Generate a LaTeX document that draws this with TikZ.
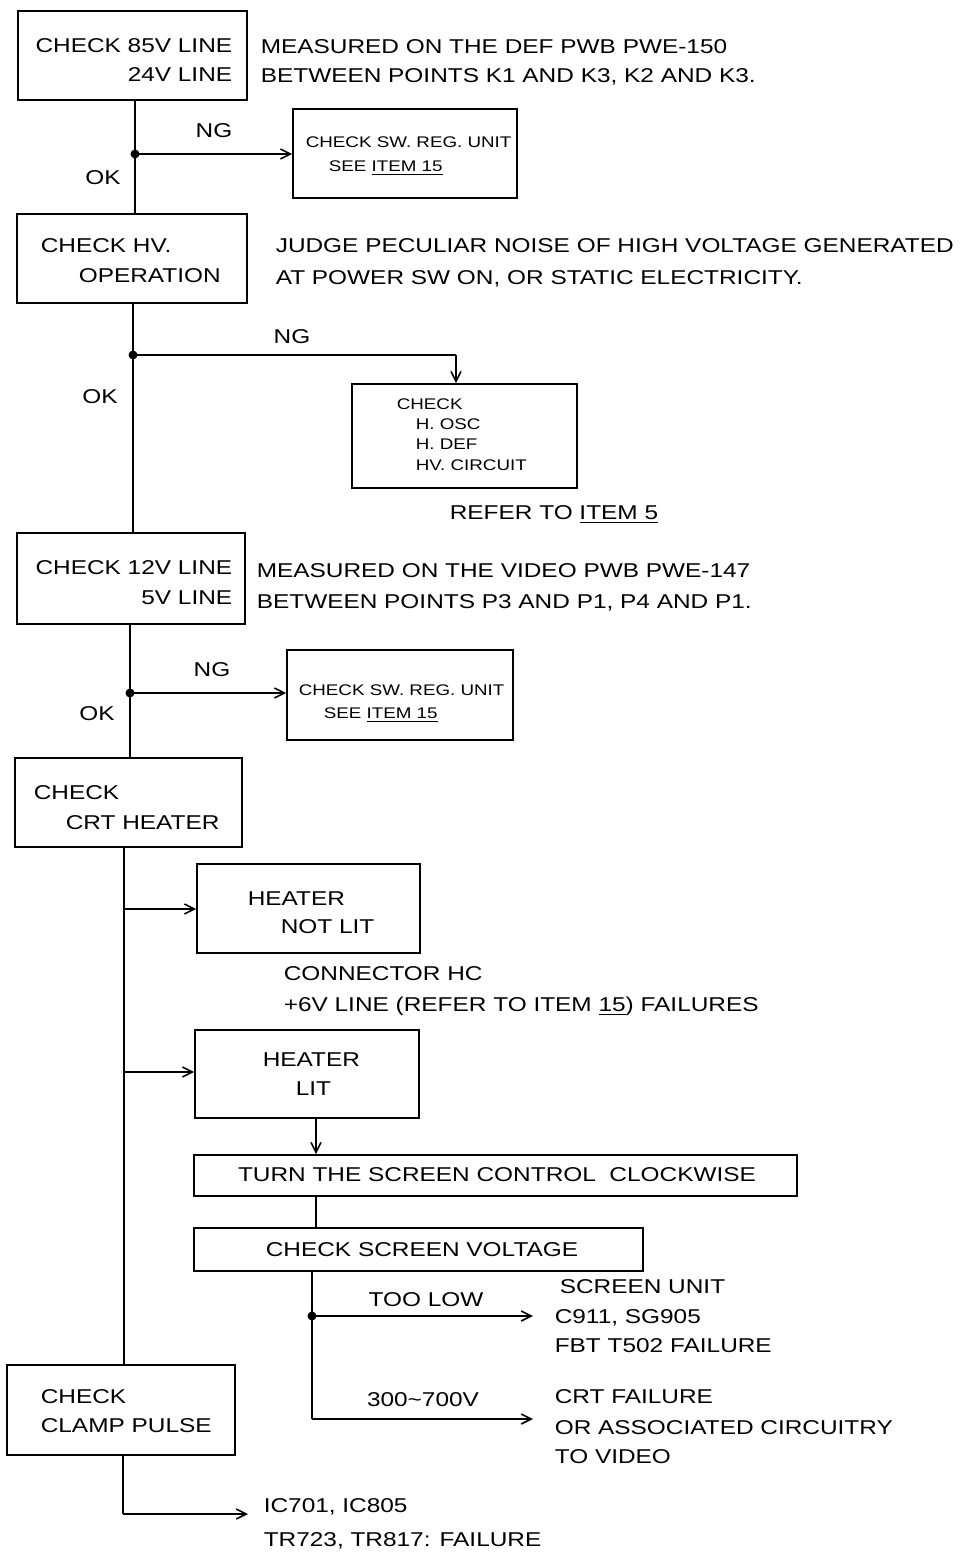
\documentclass[tikz,border=0pt]{standalone}
\usepackage{fontspec}
\setmainfont{Liberation Sans}[FakeStretch=1.22]
\usetikzlibrary{arrows.meta}
\begin{document}
\begin{tikzpicture}[x=0.5pt,y=-0.5pt,
  line width=0.8pt,
  bx/.style 2 args={draw, line width=0.8pt, minimum width=#1*0.5pt, minimum height=#2*0.5pt, inner sep=0pt},
  tx/.style={inner sep=0pt, anchor=base west, font=\fontsize{10}{12}\selectfont},
  txr/.style={tx, anchor=base east},
  sm/.style={inner sep=0pt, anchor=base west, font=\fontsize{7.7}{9}\selectfont},
  lbl/.style={inner sep=0pt, font=\fontsize{10}{12}\selectfont},
  arr/.style={-{Straight Barb[length=5pt,width=5pt]}},
  dot/.style={circle, fill, inner sep=0pt, minimum size=4.5pt}
]
\useasboundingbox (0,0) rectangle (975,1552);

% ---- boxes ----
\node[bx={229}{89}] (b1) at (132.5,55.5) {};
\node[bx={224}{89}] (b3) at (405,153.5) {};
\node[bx={230}{89}] (b2) at (132,258.5) {};
\node[bx={225}{104}] (b4) at (464.5,436) {};
\node[bx={228}{91}] (b5) at (131,578.5) {};
\node[bx={226}{90}] (b7) at (400,695) {};
\node[bx={227}{89}] (b6) at (128.5,802.5) {};
\node[bx={223}{89}] (b8) at (308.5,908.5) {};
\node[bx={224}{88}] (b9) at (307,1074) {};
\node[bx={603}{41}] (b10) at (495.5,1175.5) {};
\node[bx={449}{43}] (b11) at (418.5,1249.5) {};
\node[bx={228}{90}] (b12) at (121,1410) {};

% ---- junctions and bends ----
\node[dot] (j1) at (135,154) {};
\node[dot] (j2) at (133,355) {};
\node[dot] (j3) at (130,693) {};
\node[dot] (j4) at (312,1316) {};
\coordinate (c2) at (456,355);
\coordinate (v1) at (124,909);
\coordinate (v2) at (124,1072);
\coordinate (c4) at (312,1419);
\coordinate (c5) at (123,1514);
\coordinate (e1) at (533,1316);
\coordinate (e2) at (533,1419);
\coordinate (e3) at (248,1514);

% ---- connectors ----
\draw (b1.south -| j1) -- (b2.north -| j1);
\draw[arr] (j1.center) -- (j1.center -| b3.west);
\draw (b2.south -| j2) -- (b5.north -| j2);
\draw (j2.center) -- (c2);
\draw[arr] (c2) -- (c2 |- b4.north);
\draw (b5.south -| j3) -- (b6.north -| j3);
\draw[arr] (j3.center) -- (j3.center -| b7.west);
\draw (b6.south -| v1) -- (b12.north -| v1);
\draw[arr] (v1) -- (v1 -| b8.west);
\draw[arr] (v2) -- (v2 -| b9.west);
\draw[arr] (b9.south -| 316,0) -- (b10.north -| 316,0);
\draw (b10.south -| 316,0) -- (b11.north -| 316,0);
\draw (b11.south -| j4) -- (c4);
\draw[arr] (j4.center) -- (e1);
\draw[arr] (c4) -- (e2);
\draw (b12.south -| c5) -- (c5);
\draw[arr] (c5) -- (e3);

% ---- texts ----
\node[txr] (t1a) at (233,53) {CHECK 85V LINE};
\node[txr] (t1b) at (233,82) {24V LINE};
\node[tx] (r1a) at (260,54) {MEASURED ON THE DEF PWB PWE-150};
\node[tx] (r1b) at (260,83) {BETWEEN POINTS K1 AND K3, K2 AND K3.};
\node[lbl] (ng1) at (214,131) {NG};
\node[lbl] (ok1) at (103,178) {OK};
\node[sm] (s1a) at (305,148) {CHECK SW. REG. UNIT};
\node[sm] (s1b) at (328,171) {SEE \underline{ITEM 15}};

\node[tx] (t2a) at (40,252) {CHECK HV.};
\node[tx] (t2b) at (78,282) {OPERATION};
\node[tx] (r2a) at (275,252) {JUDGE PECULIAR NOISE OF HIGH VOLTAGE GENERATED};
\node[tx] (r2b) at (275,284) {AT POWER SW ON, OR STATIC ELECTRICITY.};
\node[lbl] (ng2) at (292,337) {NG};
\node[lbl] (ok2) at (100,397) {OK};
\node[sm] (h1) at (396,409) {CHECK};
\node[sm] (h2) at (415,429) {H. OSC};
\node[sm] (h3) at (415,449) {H. DEF};
\node[sm] (h4) at (415,470) {HV. CIRCUIT};
\node[tx] (rf) at (449,519) {REFER TO \underline{ITEM 5}};

\node[txr] (t5a) at (233,574) {CHECK 12V LINE};
\node[txr] (t5b) at (233,604) {5V LINE};
\node[tx] (r3a) at (256,577) {MEASURED ON THE VIDEO PWB PWE-147};
\node[tx] (r3b) at (256,608) {BETWEEN POINTS P3 AND P1, P4 AND P1.};
\node[lbl] (ng3) at (212,670) {NG};
\node[lbl] (ok3) at (97,714) {OK};
\node[sm] (s2a) at (298,695) {CHECK SW. REG. UNIT};
\node[sm] (s2b) at (323,718) {SEE \underline{ITEM 15}};

\node[tx] (t6a) at (33,799) {CHECK};
\node[tx] (t6b) at (65,829) {CRT HEATER};
\node[tx] (t8a) at (247,905) {HEATER};
\node[tx] (t8b) at (280,933) {NOT LIT};
\node[tx] (cn1) at (283,980) {CONNECTOR HC};
\node[tx] (cn2) at (283,1011) {+6V LINE (REFER TO ITEM \underline{15}) FAILURES};
\node[tx] (t9a) at (262,1066) {HEATER};
\node[tx] (t9b) at (295,1095) {LIT};
\node[lbl] (t10) at (497,1175) {TURN THE SCREEN CONTROL\ \ CLOCKWISE};
\node[lbl] (t11) at (422,1250) {CHECK SCREEN VOLTAGE};
\node[lbl] (tl) at (426,1300) {TOO LOW};
\node[lbl] (rg) at (423,1400) {300\textasciitilde700V};
\node[tx] (su1) at (559,1293) {SCREEN UNIT};
\node[tx] (su2) at (554,1323) {C911, SG905};
\node[tx] (su3) at (554,1352) {FBT T502 FAILURE};
\node[tx] (cf1) at (554,1403) {CRT FAILURE};
\node[tx] (cf2) at (554,1434) {OR ASSOCIATED CIRCUITRY};
\node[tx] (cf3) at (554,1463) {TO VIDEO};
\node[tx] (t12a) at (40,1403) {CHECK};
\node[tx] (t12b) at (40,1432) {CLAMP PULSE};
\node[tx] (ic1) at (263,1512) {IC701, IC805};
\node[tx] (ic2) at (263,1546) {TR723, TR817: FAILURE};
\end{tikzpicture}
\end{document}
